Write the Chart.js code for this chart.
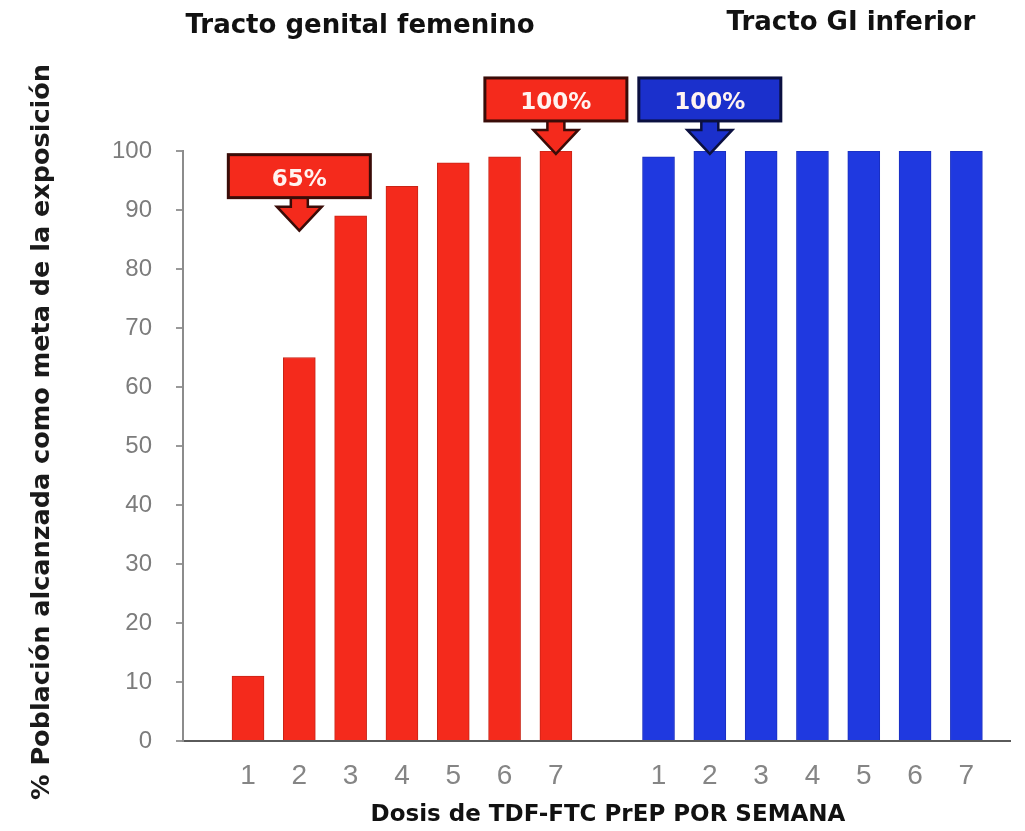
<!DOCTYPE html>
<html>
<head>
<meta charset="utf-8">
<script src="https://cdn.jsdelivr.net/npm/chart.js@4"></script>
<style>
  html, body { margin: 0; padding: 0; background: #fff; }
  canvas { display: block; }
</style>
</head>
<body>
<canvas id="chart" width="1025" height="831"></canvas>
<script>
// datos
const doses = ["1", "2", "3", "4", "5", "6", "7"];
const genitalValues = [11, 65, 89, 94, 98, 99, 100];
const giValues = [99, 100, 100, 100, 100, 100, 100];
const yTicks = [0, 10, 20, 30, 40, 50, 60, 70, 80, 90, 100];

const groupTitles = ["Tracto genital femenino", "Tracto GI inferior"];
const yTitle = "% Población alcanzada como meta de la exposición";
const xTitle = "Dosis de TDF-FTC PrEP POR SEMANA";

// posición en x: grupo 1 -> 1..7, hueco, grupo 2 -> 9..15
const BLUE_START = doses.length + 2;
const xPos = [
  ...doses.map((d, i) => i + 1),
  ...doses.map((d, i) => i + BLUE_START)
];
const xLabels = [...doses, ...doses];

const RED = "#f42a1c";
const BLUE = "#1f39e0";

// cajas con flecha (dataset, índice, texto, altura de la punta)
const callouts = [
  { ds: 0, idx: 1, text: "65%", tip: 86.5, fill: RED, stroke: "#3a0c08" },
  { ds: 0, idx: 6, text: "100%", tip: 99.5, fill: RED, stroke: "#3a0c08" },
  { ds: 1, idx: 1, text: "100%", tip: 99.5, fill: "#1b30cc", stroke: "#0b1040" }
];

const calloutPlugin = {
  id: "callouts",
  afterDatasetsDraw(chart) {
    const ctx = chart.ctx;
    const xs = chart.scales.x, ys = chart.scales.y;
    callouts.forEach(c => {
      const pt = chart.data.datasets[c.ds].data[c.idx];
      const cx = xs.getPixelForValue(pt.x);
      const tipY = ys.getPixelForValue(c.tip);
      const boxW = 142, boxH = 43, arrowLen = 33;
      const shaftW = 17, headW = 45, shaftLen = 9;
      const boxBottom = tipY - arrowLen;
      const boxTop = boxBottom - boxH;
      ctx.save();
      ctx.lineJoin = "miter";
      // flecha
      ctx.beginPath();
      ctx.moveTo(cx - shaftW / 2, boxBottom - 2);
      ctx.lineTo(cx - shaftW / 2, boxBottom + shaftLen);
      ctx.lineTo(cx - headW / 2, boxBottom + shaftLen);
      ctx.lineTo(cx, tipY);
      ctx.lineTo(cx + headW / 2, boxBottom + shaftLen);
      ctx.lineTo(cx + shaftW / 2, boxBottom + shaftLen);
      ctx.lineTo(cx + shaftW / 2, boxBottom - 2);
      ctx.closePath();
      ctx.fillStyle = c.fill;
      ctx.fill();
      ctx.lineWidth = 2.5;
      ctx.strokeStyle = c.stroke;
      ctx.stroke();
      // caja
      ctx.fillStyle = c.fill;
      ctx.fillRect(cx - boxW / 2, boxTop, boxW, boxH);
      ctx.lineWidth = 3;
      ctx.strokeRect(cx - boxW / 2, boxTop, boxW, boxH);
      ctx.fillStyle = "#fff3f0";
      ctx.font = "bold 23px 'DejaVu Sans', Verdana, sans-serif";
      ctx.textAlign = "center";
      ctx.textBaseline = "middle";
      ctx.fillText(c.text, cx, boxTop + boxH / 2 + 4);
      ctx.restore();
    });
  }
};

// títulos (grupos y ejes), colocados como en la figura original
const titlePlugin = {
  id: "titles",
  afterDraw(chart) {
    const ctx = chart.ctx;
    ctx.save();
    ctx.fillStyle = "#111";
    ctx.font = "bold 26px 'DejaVu Sans', Verdana, sans-serif";
    ctx.textAlign = "center";
    ctx.textBaseline = "alphabetic";
    ctx.fillText(groupTitles[0], 360, 33);
    ctx.fillText(groupTitles[1], 851, 30);

    ctx.font = "bold 23px 'DejaVu Sans', Verdana, sans-serif";
    ctx.textBaseline = "middle";
    ctx.fillText(xTitle, 608, 815);

    ctx.fillStyle = "#1a1a1a";
    ctx.font = "bold 25.5px 'DejaVu Sans', Verdana, sans-serif";
    ctx.translate(42, 432);
    ctx.rotate(-Math.PI / 2);
    ctx.fillText(yTitle, 0, 0);
    ctx.restore();
  }
};

new Chart(document.getElementById("chart"), {
  type: "bar",
  data: {
    datasets: [
      {
        data: genitalValues.map((v, i) => ({ x: xPos[i], y: v })),
        backgroundColor: RED,
        borderColor: "#c92416",
        borderWidth: 1,
        barThickness: 32,
        grouped: false
      },
      {
        data: giValues.map((v, i) => ({ x: xPos[i + doses.length], y: v })),
        backgroundColor: BLUE,
        borderColor: "#1a2fbf",
        borderWidth: 1,
        barThickness: 32,
        grouped: false
      }
    ]
  },
  options: {
    responsive: false,
    animation: false,
    layout: { padding: { top: 151, right: 15, left: 0, bottom: 0 } },
    plugins: {
      legend: { display: false },
      tooltip: { enabled: false }
    },
    scales: {
      x: {
        type: "linear",
        offset: false,
        min: -0.267,
        max: 15.85,
        grid: { display: false },
        border: { display: true, color: "#5a5a5a", width: 2 },
        afterBuildTicks: s => { s.ticks = xPos.map(v => ({ value: v })); },
        afterFit: s => { s.height = 90; },
        ticks: {
          autoSkip: false,
          maxRotation: 0,
          padding: 10,
          color: "#858585",
          font: { family: "'Liberation Sans Narrow', 'Liberation Sans', Arial, sans-serif", size: 28 },
          callback: v => xLabels[xPos.indexOf(v)]
        }
      },
      y: {
        min: 0,
        max: 100,
        afterBuildTicks: s => { s.ticks = yTicks.map(v => ({ value: v })); },
        afterFit: s => { s.width = 183; },
        grid: {
          drawOnChartArea: false,
          drawTicks: true,
          tickLength: 7,
          color: "#999",
          lineWidth: 2
        },
        border: { display: true, color: "#8c8c8c", width: 2 },
        ticks: {
          padding: 24,
          color: "#7c7c7c",
          font: { family: "'Liberation Sans Narrow', 'Liberation Sans', Arial, sans-serif", size: 24 }
        }
      }
    }
  },
  plugins: [calloutPlugin, titlePlugin]
});
</script>
</body>
</html>
